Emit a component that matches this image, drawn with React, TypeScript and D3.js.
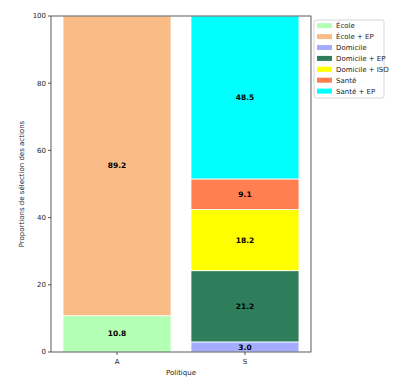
import React from 'react';
import * as d3 from 'd3';

const policies = ['A', 'S'];
const actions = ['École', 'École + EP', 'Domicile', 'Domicile + EP', 'Domicile + ISO', 'Santé', 'Santé + EP'];
const colors = ['#b3ffb3', '#f9bc86', '#a3acff', '#2e7d5b', '#ffff00', '#ff7f50', '#00ffff'];
// values per action, for A and S
const valuesA = [10.8, 89.2, 0, 0, 0, 0, 0];
const valuesS = [0, 0, 3.0, 21.2, 18.2, 9.1, 48.5];
const yTicks = [0, 20, 40, 60, 80, 100];

const font = 'DejaVu Sans, sans-serif';

export default function App() {
  const margin = { left: 51, top: 16, right: 311, bottom: 352 };
  const x = d3.scaleBand().domain(policies).range([margin.left, margin.right]).paddingInner(0.156).paddingOuter(0.094);
  const y = d3.scaleLinear().domain([0, 100]).range([margin.bottom, margin.top]);

  const table = policies.map((p, i) => {
    const vals = i === 0 ? valuesA : valuesS;
    let acc = 0;
    return vals.map((v, k) => {
      const seg = { policy: p, action: k, y0: acc, y1: acc + v, v };
      acc += v;
      return seg;
    }).filter((s) => s.v > 0);
  });

  return (
    <svg width={403} height={389} style={{ position: 'absolute', left: 0, top: 0 }}>
      <rect width={403} height={389} fill="white" />
      {table.map((segs) =>
        segs.map((s) => (
          <g key={s.policy + s.action}>
            <rect
              x={x(s.policy)}
              y={y(s.y1)}
              width={x.bandwidth()}
              height={y(s.y0) - y(s.y1)}
              fill={colors[s.action]}
              stroke="white"
              strokeWidth={0.8}
            />
            <text
              x={(x(s.policy) as number) + x.bandwidth() / 2}
              y={(y(s.y0) + y(s.y1)) / 2}
              dy="0.35em"
              textAnchor="middle"
              fontFamily={font}
              fontSize={7.5}
              fontWeight="bold"
              fill="black"
            >
              {s.v.toFixed(1)}
            </text>
          </g>
        ))
      )}
      <rect x={margin.left} y={margin.top} width={margin.right - margin.left} height={margin.bottom - margin.top} fill="none" stroke="#333" strokeWidth={0.8} />
      {yTicks.map((t) => (
        <g key={t}>
          <line x1={margin.left - 3} x2={margin.left} y1={y(t)} y2={y(t)} stroke="#333" strokeWidth={0.8} />
          <text x={margin.left - 5} y={y(t)} dy="0.35em" textAnchor="end" fontFamily={font} fontSize={7} fill="#222">{t}</text>
        </g>
      ))}
      {policies.map((p) => {
        const cx = (x(p) as number) + x.bandwidth() / 2;
        return (
          <g key={p}>
            <line x1={cx} x2={cx} y1={margin.bottom} y2={margin.bottom + 3} stroke="#333" strokeWidth={0.8} />
            <text x={cx} y={margin.bottom + 12} textAnchor="middle" fontFamily={font} fontSize={7} fill="#222">{p}</text>
          </g>
        );
      })}
      <text x={(margin.left + margin.right) / 2} y={375} textAnchor="middle" fontFamily={font} fontSize={7} fill="#222">Politique</text>
      <text transform={`translate(24,${(margin.top + margin.bottom) / 2}) rotate(-90)`} textAnchor="middle" fontFamily={font} fontSize={7} fill="#222">Proportions de sélection des actions</text>
      <g>
        <rect x={314} y={20} width={70} height={78} fill="white" stroke="#ccc" strokeWidth={0.8} rx={2} />
        {actions.map((a, i) => {
          const ly = 25.7 + i * 10.9;
          return (
            <g key={a}>
              <rect x={317} y={ly - 2.5} width={15} height={5} fill={colors[i]} />
              <text x={336} y={ly} dy="0.35em" fontFamily={font} fontSize={7} fill="#222">{a}</text>
            </g>
          );
        })}
      </g>
    </svg>
  );
}
